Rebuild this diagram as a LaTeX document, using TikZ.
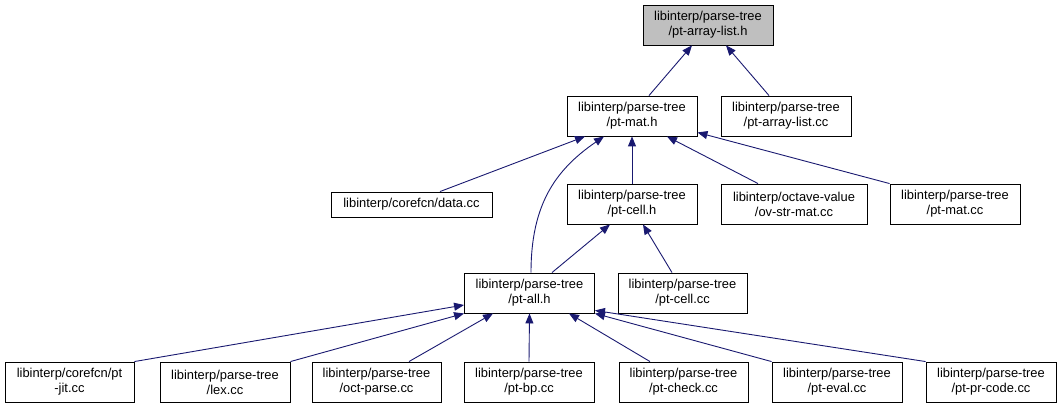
\documentclass[tikz,border=0pt]{standalone}
\usepackage{fontspec}
\setmainfont{Liberation Sans}
\usetikzlibrary{arrows.meta}
\definecolor{edgeblue}{HTML}{191970}
\definecolor{hilite}{HTML}{BFBFBF}
\tikzset{
  box/.style={draw=black, line width=0.9pt, fill=white, minimum width=130pt, minimum height=40pt,
    inner sep=0pt, align=center, font=\fontsize{12.9}{15}\selectfont},
  dep/.style={draw=edgeblue, line width=0.9pt, -{Triangle[length=10pt,width=8pt,fill=edgeblue]}}
}
\begin{document}
\begin{tikzpicture}[x=1pt,y=-1pt]
\useasboundingbox (0,0) rectangle (1060,409);
% nodes
\node[box, fill=hilite] (top) at (708,25) {libinterp/parse-tree\\/pt-array-list.h};
\node[box] (ptmat) at (632,116) {libinterp/parse-tree\\/pt-mat.h};
\node[box] (palcc) at (786,116) {libinterp/parse-tree\\/pt-array-list.cc};
\node[box, minimum width=161pt, minimum height=25pt] (data) at (411.5,204.5) {libinterp/corefcn/data.cc};
\node[box] (ptcellh) at (632,204) {libinterp/parse-tree\\/pt-cell.h};
\node[box, minimum width=146pt] (ovstr) at (794,204) {libinterp/octave-value\\/ov-str-mat.cc};
\node[box] (ptmatcc) at (955,204) {libinterp/parse-tree\\/pt-mat.cc};
\node[box] (ptall) at (529.5,293) {libinterp/parse-tree\\/pt-all.h};
\node[box, minimum width=129pt] (ptcellcc) at (682.5,293) {libinterp/parse-tree\\/pt-cell.cc};
\node[box, minimum width=129pt] (ptjit) at (69.5,382) {libinterp/corefcn/pt\\-jit.cc};
\node[box] (lex) at (225,382) {libinterp/parse-tree\\/lex.cc};
\node[box, minimum width=129pt] (oct) at (376.5,382) {libinterp/parse-tree\\/oct-parse.cc};
\node[box] (ptbp) at (529,382) {libinterp/parse-tree\\/pt-bp.cc};
\node[box, minimum width=129pt] (ptcheck) at (683.5,382) {libinterp/parse-tree\\/pt-check.cc};
\node[box] (pteval) at (837,382) {libinterp/parse-tree\\/pt-eval.cc};
\node[box] (ptpr) at (991,382) {libinterp/parse-tree\\/pt-pr-code.cc};
% edges
\draw[dep] ([xshift=17pt]ptmat.north) -- ([xshift=-16pt]top.south);
\draw[dep] ([xshift=-17pt]palcc.north) -- ([xshift=18pt]top.south);
\draw[dep] ([xshift=28.5pt]data.north) -- ([xshift=-47pt]ptmat.south);
\draw[dep] ([xshift=1.5pt]ptall.north) .. controls (531,205) and (555,170) .. ([xshift=-28pt]ptmat.south);
\draw[dep] (ptcellh.north) -- (ptmat.south);
\draw[dep] ([xshift=-36pt]ovstr.north) -- ([xshift=35pt]ptmat.south);
\draw[dep] (ptmatcc.north west) -- ([yshift=4pt]ptmat.south east);
\draw[dep] ([xshift=22.5pt]ptall.north) -- ([xshift=-22pt]ptcellh.south);
\draw[dep] ([xshift=-10.5pt]ptcellcc.north) -- ([xshift=11pt]ptcellh.south);
\draw[dep] (ptjit.north east) -- ([yshift=-12pt]ptall.west);
\draw[dep] (lex.north east) -- (ptall.south west);
\draw[dep] ([xshift=32.5pt]oct.north) -- ([xshift=-36.5pt]ptall.south);
\draw[dep] (ptbp.north) -- (ptall.south);
\draw[dep] ([xshift=-33.5pt]ptcheck.north) -- ([xshift=39.5pt]ptall.south);
\draw[dep] (pteval.north west) -- (ptall.south east);
\draw[dep] (ptpr.north west) -- ([yshift=3pt]ptall.south east);
\end{tikzpicture}
\end{document}
